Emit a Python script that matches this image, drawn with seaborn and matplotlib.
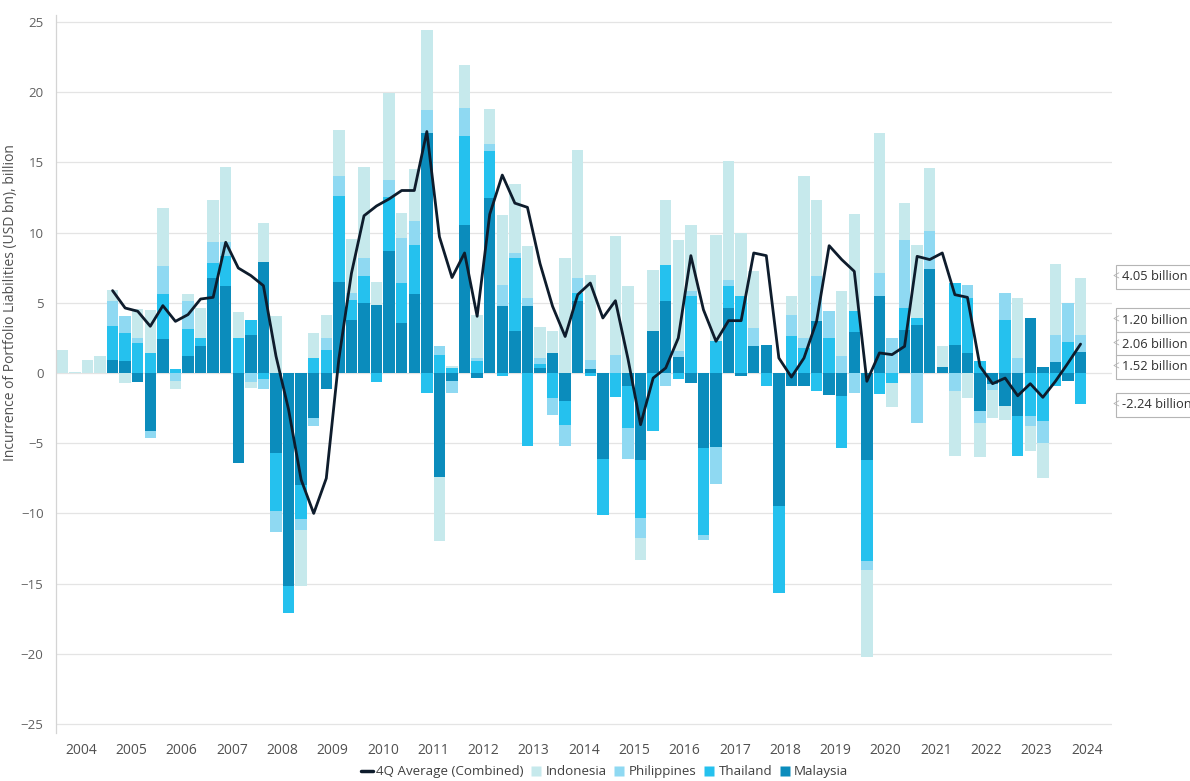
import numpy as np
import pandas as pd
import matplotlib
matplotlib.use("Agg")
import matplotlib.pyplot as plt
import seaborn as sns
from matplotlib.lines import Line2D

# ---------------- data ----------------
years = list(range(2004, 2025))
quarters = [f"{y}Q{q}" for y in years for q in range(1, 5)][:82]

indonesia = [1.66, 0.1, 0.9, 1.2, 0.75, -0.7, 2.1, 3.1, 4.15, -0.55,
             0.5, 2.1, 3.0, 5.4, 1.85, -0.45, 2.8, 4.05, 0, -4.0,
             1.8, 1.6, 3.3, 3.85, 6.5, 1.65, 6.2, 1.8, 3.7, 5.7,
             -4.6, 0.15, 3.09, 3.05, 2.49, 4.99, 4.87, 3.68, 2.26, 1.54,
             8.19, 9.14, 6.1, 0, 8.48, 6.22, -1.54, 4.35, 4.63, 7.9,
             4.75, 0, 7.6, 8.43, 4.51, 4.04, 0, 0, 1.31, 11.5,
             5.46, 0, 4.63, 6.94, -6.22, 9.98, -1.71, 2.61, 5.23, 4.5,
             1.47, -4.58, -1.78, -2.38, -2.0, -0.95, 4.28, -1.78, -2.49, 5.08,
             0, 4.05]
philippines = [0, 0, 0, 0, 1.8, 1.2, 0.35, -0.45, 2.0, -0.6,
               2.0, 0, 1.5, 1.0, 0, -0.65, -0.7, -1.5, 0, -0.8,
               -0.55, 0.85, 1.4, 0.5, 1.3, 0, 1.2, 3.2, 1.65, 1.65,
               0.6, -0.83, 1.97, 0.25, 0.48, 1.54, 0.36, 0.55, 0.4, -1.22,
               -1.54, 1.07, 0.6, 0, 1.31, -2.2, -1.43, 0, -0.95, 0.4,
               0.31, -0.36, -2.64, 0.48, 0, 1.31, 0, 0, 1.54, 0.7,
               3.21, 1.9, 1.19, -1.43, -0.59, 1.66, 2.49, 4.87, -3.56, 2.68,
               0, -1.31, 0.95, -0.87, -0.43, 1.9, 1.07, -0.71, -1.54, 1.9,
               2.78, 1.20]
thailand = [0, 0, 0, 0, 2.4, 2.0, 2.14, 1.4, 3.2, 0.3,
            1.9, 0.6, 1.05, 2.1, 2.5, 1.1, -0.45, -4.1, -1.9, -2.4,
            1.05, 1.65, 6.1, 1.4, 1.9, -0.65, 3.85, 2.85, 3.55, -1.4,
            1.3, 0.35, 6.34, 0.85, 3.33, -0.2, 5.23, -5.2, 0.3, -1.78,
            -1.66, 0.6, -0.2, -3.97, -1.71, -2.97, -4.16, -4.16, 2.61, -0.43,
            5.51, -6.18, 2.26, 1.54, 5.46, 0, -0.95, -6.22, 2.61, 1.8,
            -1.31, 2.5, -3.68, 1.47, -7.24, -1.47, -0.71, 1.54, 0.48, 0,
            0, 4.39, 3.92, 0.83, 0, 3.8, -2.85, -3.09, -3.44, -0.95,
            2.21, -2.24]
malaysia = [0, 0, 0, 0, 0.95, 0.83, -0.64, -4.15, 2.4, 0,
            1.2, 1.9, 6.8, 6.2, -6.4, 2.7, 7.9, -5.7, -15.2, -8.0,
            -3.2, -1.15, 6.5, 3.8, 5.0, 4.85, 8.7, 3.55, 5.6, 17.1,
            -7.4, -0.6, 10.57, -0.35, 12.47, 4.75, 2.97, 4.8, 0.35, 1.43,
            -2.02, 5.1, 0.3, -6.13, 0, -0.95, -6.18, 2.97, 5.1, 1.14,
            -0.71, -5.34, -5.27, 4.63, -0.19, 1.9, 2.02, -9.45, -0.95, -0.95,
            3.68, -1.54, -1.66, 2.92, -6.18, 5.46, 0, 3.09, 3.44, 7.41,
            0.45, 2.02, 1.43, -2.7, -0.76, -2.38, -3.09, 3.92, 0.4, 0.78,
            -0.55, 1.52]
avg_4q = [np.nan] * 4 + [
    5.87, 4.63, 4.4, 3.33, 4.8, 3.68, 4.16, 5.27, 5.39, 9.31,
    7.48, 6.94, 6.22, 1.2, -2.6, -7.6, -10.0, -7.5, 1.0, 7.1,
    11.2, 11.9, 12.4, 13.0, 13.0, 17.2, 9.7, 6.8, 8.55, 4.04,
    11.3, 14.1, 12.1, 11.8, 7.8, 4.75, 2.6, 5.58, 6.41, 3.92,
    5.15, 1.0, -3.68, -0.36, 0.36, 2.49, 8.36, 4.51, 2.26, 3.73,
    3.73, 8.55, 8.36, 1.07, -0.29, 1.07, 3.68, 9.07, 8.08, 7.24,
    -0.59, 1.43, 1.31, 1.9, 8.31, 8.08, 8.55, 5.58, 5.39, 0.48,
    -0.76, -0.36, -1.62, -0.76, -1.73, -0.59, 0.71, 2.06]
year_labels = [str(y) for y in years]
callouts = [("4.05 billion", 277), ("1.20 billion", 320), ("2.06 billion", 344),
            ("1.52 billion", 367), ("-2.24 billion", 405)]

# ---------------- style ----------------
sns.set_theme(style="white")
plt.rcParams['font.family'] = ['Open Sans', 'DejaVu Sans']

colors = {
    "Indonesia": "#c6e9ec",
    "Philippines": "#8fd9f2",
    "Thailand": "#25c1ee",
    "Malaysia": "#0b8cbc",
}
line_color = "#0e1c2c"

W, H = 1190, 781
fig = plt.figure(figsize=(W / 100, H / 100), dpi=100)
ax = fig.add_axes([56 / W, 48 / H, 1056 / W, 718 / H])

df = pd.DataFrame({"quarter": quarters, "Indonesia": indonesia, "Philippines": philippines,
                   "Thailand": thailand, "Malaysia": malaysia, "avg": avg_4q})
df["pos"] = np.arange(len(df))

pos_bottom = np.zeros(len(df))
neg_bottom = np.zeros(len(df))
for name in ["Malaysia", "Thailand", "Philippines", "Indonesia"]:
    v = df[name].to_numpy(dtype=float)
    bottoms = np.where(v >= 0, pos_bottom, neg_bottom)
    ax.bar(df["pos"], v, bottom=bottoms, width=0.9, color=colors[name], linewidth=0, zorder=2)
    pos_bottom += np.clip(v, 0, None)
    neg_bottom += np.clip(v, None, 0)

sns.lineplot(data=df.dropna(subset=["avg"]), x="pos", y="avg", ax=ax, color=line_color,
             lw=2.0, estimator=None, sort=False, zorder=4)

ax.set_xlim(-0.5, 83.5)
ax.set_ylim(-25.64, 25.5)
ax.set_yticks(range(-25, 26, 5))
ax.yaxis.grid(True, color="#e4e4e4", lw=0.9, zorder=0)
ax.set_axisbelow(True)
ax.tick_params(axis="y", length=0, labelsize=9.5, labelcolor="#606060", pad=9)

ax.set_xticks(np.arange(0, 85, 4) - 0.5)
ax.set_xticklabels([])
ax.tick_params(axis="x", which="major", length=5, width=0.9, color="#9a9a9a", direction="out")
ax.set_xticks(np.arange(len(years)) * 4 + 1.5, minor=True)
ax.set_xticklabels(year_labels, minor=True)
ax.tick_params(axis="x", which="minor", length=0, labelsize=10, labelcolor="#505050", pad=7)

for s in ["top", "right", "bottom"]:
    ax.spines[s].set_visible(False)
ax.spines["left"].set_color("#d4d4d4")
ax.spines["left"].set_linewidth(0.9)

ax.set_xlabel("")
ax.set_ylabel("Incurrence of Portfolio Liabilities (USD bn), billion", fontsize=10, color="#505050")
ax.yaxis.set_label_coords(-0.036, 0.60)

# legend
handles = [Line2D([0], [0], color=line_color, lw=2.5)]
labels = ["4Q Average (Combined)"]
for name in ["Indonesia", "Philippines", "Thailand", "Malaysia"]:
    handles.append(Line2D([0], [0], marker="s", color="none", markerfacecolor=colors[name],
                          markeredgecolor="none", markersize=6.5))
    labels.append(name)
fig.legend(handles, labels, loc="lower center", bbox_to_anchor=(0.508, -0.012), ncol=5,
           frameon=False, fontsize=9.6, handlelength=0.9, handletextpad=0.25,
           columnspacing=0.5, labelcolor="#404040")

# callouts
for text, ypx in callouts:
    fig.text(1122 / W, 1 - ypx / H, text, fontsize=9.3, color="#303030", va="center", ha="left",
             bbox=dict(boxstyle="square,pad=0.45", fc="white", ec="#b5b5b5", lw=0.8))
    fig.text(1112 / W, 1 - ypx / H, "<", fontsize=8.5, color="#b0b0b0", va="center", ha="left")

fig.savefig("out.png", dpi=100, facecolor="white")
